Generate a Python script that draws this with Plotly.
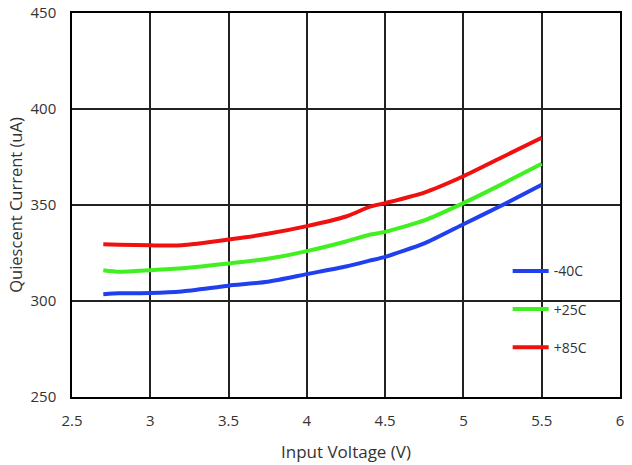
import plotly.graph_objects as go

voltage = [2.7, 2.8, 3.0, 3.2, 3.5, 3.75, 4.0, 4.25, 4.4, 4.5, 4.75, 5.0, 5.25, 5.5]
i_m40 = [303.5, 304.0, 304.2, 305.0, 308.0, 310.0, 314.0, 318.0, 321.0, 323.0, 330.0, 340.0, 350.0, 360.5]
i_p25 = [316.0, 315.2, 316.0, 317.0, 319.5, 322.0, 326.0, 331.0, 334.5, 336.0, 342.0, 351.0, 361.0, 371.5]
i_p85 = [329.5, 329.3, 329.0, 329.0, 332.0, 335.0, 339.0, 344.0, 349.0, 351.0, 356.5, 365.0, 375.0, 385.0]
names = ["-40C", "+25C", "+85C"]
colors = ["#2040f0", "#40f020", "#f01010"]
x_ticks = [2.5, 3, 3.5, 4, 4.5, 5, 5.5, 6]
y_ticks = [250, 300, 350, 400, 450]

fig = go.Figure()
for i, (ys, nm, c) in enumerate(zip([i_m40, i_p25, i_p85], names, colors)):
    fig.add_trace(go.Scatter(x=voltage, y=ys, mode="lines", name=nm,
                             line=dict(color=c, width=4, shape="spline", smoothing=0.6),
                             legendgroup=str(i)))

fig.add_shape(type="rect", xref="paper", yref="paper", x0=0.783, x1=0.962, y0=0.08, y1=0.37,
              fillcolor="white", line=dict(width=0), layer="between")

axis_common = dict(showline=True, linecolor="black", linewidth=1.5, mirror=True,
                   showgrid=True, gridcolor="#222", gridwidth=1.5, zeroline=False,
                   ticks="", automargin=False, tickfont=dict(size=15, color="#333"))
fig.update_xaxes(range=[2.5, 6], tickvals=x_ticks, ticktext=[str(t) for t in x_ticks],
                 ticklabelstandoff=9,
                 title=dict(text="Input Voltage (V)", font=dict(size=17, color="#333"), standoff=17),
                 **axis_common)
fig.update_yaxes(range=[250, 450], tickvals=y_ticks, ticklabelstandoff=11,
                 title=dict(text="Quiescent Current (uA)", font=dict(size=16.5, color="#333"), standoff=4),
                 **axis_common)

fig.update_layout(
    width=632, height=465,
    margin=dict(l=72, r=12, t=13, b=68),
    paper_bgcolor="white", plot_bgcolor="white",
    font=dict(family="Open Sans, Noto Sans, sans-serif", color="#333"),
    legend=dict(x=0.795, y=0.369, xanchor="left", yanchor="top", bgcolor="rgba(0,0,0,0)",
                font=dict(size=14, color="#333"), traceorder="grouped", tracegroupgap=17,
                itemwidth=36),
)
fig.write_html("out.html", config={"displayModeBar": False},
               post_script="document.body.style.margin='0';")
